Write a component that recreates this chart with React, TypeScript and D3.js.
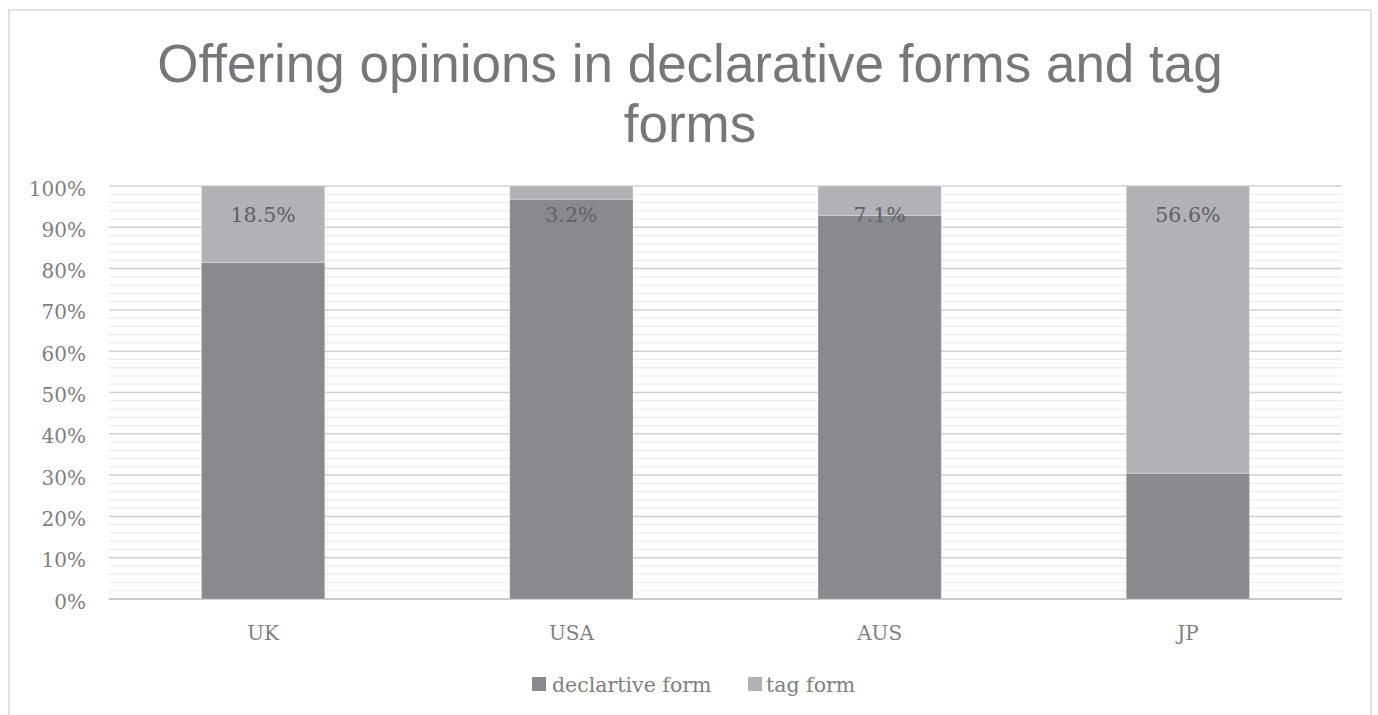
import React from "react";
import * as d3 from "d3";

const categories = ["UK", "USA", "AUS", "JP"];
const declarativeValues = [81.5, 96.8, 92.9, 24.8];
const tagValues = [18.5, 3.2, 7.1, 56.6];
const tagLabels = ["18.5%", "3.2%", "7.1%", "56.6%"];
const seriesNames = ["declartive form", "tag form"];
const seriesColors = ["#898a8e", "#b1b2b6"];
const yTicks = [0, 0.1, 0.2, 0.3, 0.4, 0.5, 0.6, 0.7, 0.8, 0.9, 1.0];
const titleLines = ["Offering opinions in declarative forms and tag", "forms"];

const W = 1378;
const H = 715;
const plot = { left: 109, right: 1342, top: 186, bottom: 599 };
const serif = "'DejaVu Serif', serif";

export default function App() {
  const rows = categories.map((c, i) => ({
    cat: c,
    decl: declarativeValues[i],
    tag: tagValues[i],
  }));
  const stack = d3
    .stack<any>()
    .keys(["decl", "tag"])
    .offset(d3.stackOffsetExpand);
  const layers = stack(rows);

  const x = d3
    .scaleBand<string>()
    .domain(categories)
    .range([plot.left, plot.right])
    .paddingInner(0.6)
    .paddingOuter(0.3);
  const y = d3.scaleLinear().domain([0, 1]).range([plot.bottom, plot.top]);
  const minor = d3.range(0, 1.0001, 0.02).filter((v) => Math.abs(v * 10 - Math.round(v * 10)) > 1e-6);
  const fmt = d3.format(".0%");

  return (
    <svg
      width={W}
      height={H}
      style={{ position: "absolute", left: 0, top: 0, background: "#fff" }}
    >
      <rect x={0} y={0} width={W} height={H} fill="#fff" />
      <rect x={9} y={10} width={1362} height={720} fill="none" stroke="#d9d9d9" strokeWidth={1.5} />
      {titleLines.map((t, i) => (
        <text
          key={i}
          x={690}
          y={82 + i * 60}
          textAnchor="middle"
          fontFamily="'Liberation Sans', Arial, sans-serif"
          fontSize={53}
          fill="#76777b"
        >
          {t}
        </text>
      ))}
      {minor.map((v, i) => (
        <line key={"m" + i} x1={plot.left} x2={plot.right} y1={y(v)} y2={y(v)} stroke="#ebebeb" strokeWidth={1.2} />
      ))}
      {yTicks.map((v, i) => (
        <g key={"t" + i}>
          <line
            x1={plot.left}
            x2={plot.right}
            y1={y(v)}
            y2={y(v)}
            stroke={v === 0 ? "#c8c8c8" : "#d0d0d0"}
            strokeWidth={v === 0 ? 2 : 1.5}
          />
          <text x={86} y={y(v) + 9.5} textAnchor="end" fontFamily={serif} fontSize={20} fill="#7f7f7f">
            {fmt(v)}
          </text>
        </g>
      ))}
      {layers.map((layer, li) => (
        <g key={"l" + li}>
          {layer.map((d, i) => (
            <rect
              key={i}
              x={x(categories[i])}
              y={y(d[1])}
              width={x.bandwidth()}
              height={y(d[0]) - y(d[1])}
              fill={seriesColors[li]}
              stroke="#ffffff"
              strokeOpacity={0.35}
              strokeWidth={0.8}
            />
          ))}
        </g>
      ))}
      {layers[1].map((d, i) => (
        <text
          key={"dl" + i}
          x={(x(categories[i]) as number) + x.bandwidth() / 2}
          y={y(d[1]) + 36}
          textAnchor="middle"
          fontFamily={serif}
          fontSize={20.5}
          fill="#5f6063"
        >
          {tagLabels[i]}
        </text>
      ))}
      {categories.map((c) => (
        <text
          key={c}
          x={(x(c) as number) + x.bandwidth() / 2}
          y={640}
          textAnchor="middle"
          fontFamily={serif}
          fontSize={20}
          fill="#7f7f7f"
        >
          {c}
        </text>
      ))}
      {(() => {
        const items = [
          { x: 532, tx: 552 },
          { x: 748, tx: 766 },
        ];
        return seriesNames.map((n, i) => (
          <g key={n}>
            <rect x={items[i].x} y={677} width={14} height={14} fill={seriesColors[i]} />
            <text x={items[i].tx} y={692} fontFamily={serif} fontSize={20.5} fill="#7f7f7f">
              {n}
            </text>
          </g>
        ));
      })()}
    </svg>
  );
}
